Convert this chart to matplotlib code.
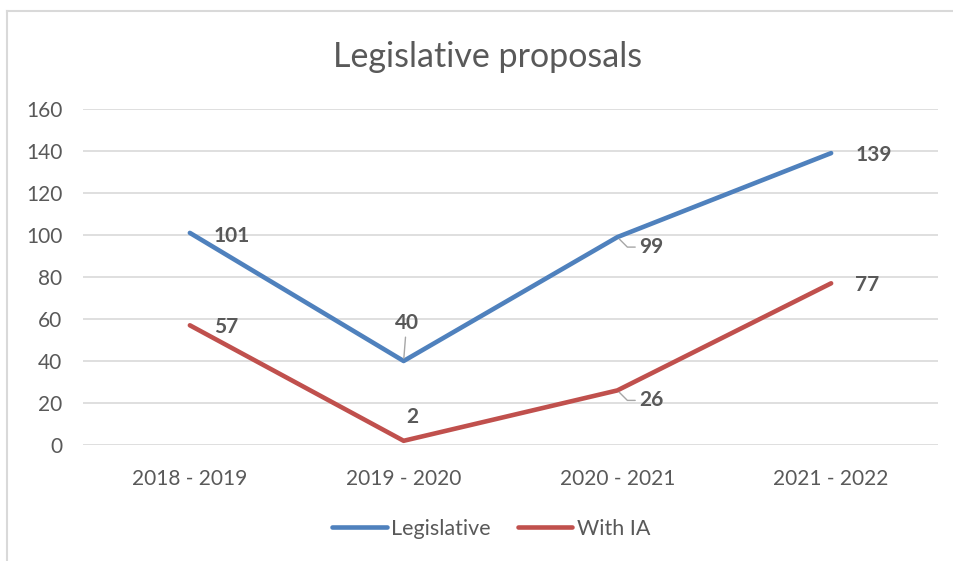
import matplotlib.pyplot as plt
from matplotlib.lines import Line2D

# data
periods = ["2018 - 2019", "2019 - 2020", "2020 - 2021", "2021 - 2022"]
legislative = [101, 40, 99, 139]
with_ia = [57, 2, 26, 77]

blue = "#4F81BD"
red = "#C0504D"
txt = "#595959"

plt.rcParams['font.family'] = ['Lato', 'DejaVu Sans']

fig = plt.figure(figsize=(9.54, 5.61), dpi=100)
ax = fig.add_axes([83 / 954, 1 - 445 / 561, (938 - 83) / 954, (445 - 109) / 561])

x = range(len(periods))
ax.plot(x, legislative, color=blue, lw=3.3, solid_capstyle='round', label="Legislative")
ax.plot(x, with_ia, color=red, lw=3.3, solid_capstyle='round', label="With IA")

ax.set_xlim(-0.5, len(periods) - 0.5)
ax.set_ylim(0, 160)
ax.set_yticks(range(0, 161, 20))
ax.set_xticks(list(x))
ax.set_xticklabels(periods)
ax.grid(axis='y', color='#d9d9d9', lw=1.2)
ax.set_axisbelow(True)
for s in ax.spines.values():
    s.set_visible(False)
ax.tick_params(axis='both', length=0, colors=txt, labelsize=15)
ax.tick_params(axis='y', pad=15)
ax.tick_params(axis='x', pad=17)

# data labels (offsets in pixels)
lab = dict(textcoords='offset pixels', fontsize=15, fontweight='bold', color=txt, va='center')
lead = dict(arrowstyle='-', color='#a6a6a6', lw=1, shrinkA=1, shrinkB=2)
ax.annotate(str(legislative[0]), (0, legislative[0]), xytext=(24, -3), ha='left', **lab)
ax.annotate(str(with_ia[0]), (0, with_ia[0]), xytext=(24, -2), ha='left', **lab)
ax.annotate(str(legislative[1]), (1, legislative[1]), xytext=(3, 38), ha='center',
            arrowprops=dict(lead, connectionstyle='arc3'), **lab)
ax.annotate(str(with_ia[1]), (1, with_ia[1]), xytext=(9, 24), ha='center', **lab)
ax.annotate(str(legislative[2]), (2, legislative[2]), xytext=(22, -10), ha='left',
            arrowprops=dict(lead, connectionstyle='angle,angleA=0,angleB=-45,rad=0'), **lab)
ax.annotate(str(with_ia[2]), (2, with_ia[2]), xytext=(22, -10), ha='left',
            arrowprops=dict(lead, connectionstyle='angle,angleA=0,angleB=-45,rad=0'), **lab)
ax.annotate(str(legislative[3]), (3, legislative[3]), xytext=(24, -2), ha='left', **lab)
ax.annotate(str(with_ia[3]), (3, with_ia[3]), xytext=(24, -2), ha='left', **lab)

fig.text(488 / 954, 1 - 57 / 561, "Legislative proposals", ha='center', va='center',
         fontsize=24.5, color=txt)

ax.legend(loc='center', bbox_to_anchor=((491 - 83) / 855, -(529 - 445) / (445 - 109)), ncol=2,
          frameon=False, fontsize=15.5, labelcolor=txt, handlelength=2.55, handletextpad=0.2,
          columnspacing=1.25)

# chart border (top and left edges visible in the reference)
fig.add_artist(Line2D([7 / 954, 7 / 954], [0, 1 - 11 / 561], color='#d9d9d9', lw=1.5))
fig.add_artist(Line2D([7 / 954, 1], [1 - 11 / 561, 1 - 11 / 561], color='#d9d9d9', lw=1.5))

fig.savefig("out.png", dpi=100)
